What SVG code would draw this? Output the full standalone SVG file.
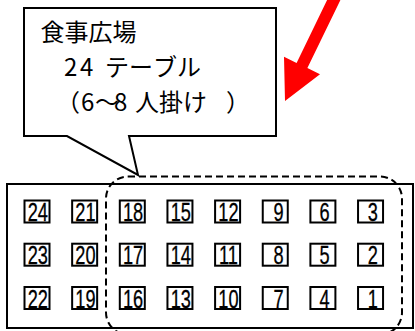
<svg xmlns="http://www.w3.org/2000/svg" width="415" height="331" viewBox="0 0 415 331">
<style>
.cj{font-family:"Noto Sans CJK JP","Noto Sans CJK SC",sans-serif;font-size:24px;fill:#000}
.bx{fill:#fff;stroke:#000;stroke-width:2}
.n{font-family:"Liberation Sans",Arial,sans-serif;font-size:26px;fill:#000;stroke:#000;stroke-width:0.3;text-anchor:middle}
</style>
<rect width="415" height="331" fill="#fff"/>
<g id="tables">
<rect x="7" y="184" width="406" height="144" fill="#fff" stroke="#000" stroke-width="2"/>
</g>
<g id="t24"><rect class="bx" x="24.5" y="200.5" width="25" height="22"/><text class="n" transform="translate(37.8,221) scale(0.7 1)">24</text></g>
<g id="t23"><rect class="bx" x="24.5" y="243.7" width="25" height="22"/><text class="n" transform="translate(37.8,264.2) scale(0.7 1)">23</text></g>
<g id="t22"><rect class="bx" x="24.5" y="287" width="25" height="22"/><text class="n" transform="translate(37.8,307.5) scale(0.7 1)">22</text></g>
<g id="t21"><rect class="bx" x="72.15" y="200.5" width="25" height="22"/><text class="n" transform="translate(85.45,221) scale(0.7 1)">21</text></g>
<g id="t20"><rect class="bx" x="72.15" y="243.7" width="25" height="22"/><text class="n" transform="translate(85.45,264.2) scale(0.7 1)">20</text></g>
<g id="t19"><rect class="bx" x="72.15" y="287" width="25" height="22"/><text class="n" transform="translate(85.45,307.5) scale(0.7 1)">19</text></g>
<g id="t18"><rect class="bx" x="119.8" y="200.5" width="25" height="22"/><text class="n" transform="translate(133.1,221) scale(0.7 1)">18</text></g>
<g id="t17"><rect class="bx" x="119.8" y="243.7" width="25" height="22"/><text class="n" transform="translate(133.1,264.2) scale(0.7 1)">17</text></g>
<g id="t16"><rect class="bx" x="119.8" y="287" width="25" height="22"/><text class="n" transform="translate(133.1,307.5) scale(0.7 1)">16</text></g>
<g id="t15"><rect class="bx" x="167.45" y="200.5" width="25" height="22"/><text class="n" transform="translate(180.75,221) scale(0.7 1)">15</text></g>
<g id="t14"><rect class="bx" x="167.45" y="243.7" width="25" height="22"/><text class="n" transform="translate(180.75,264.2) scale(0.7 1)">14</text></g>
<g id="t13"><rect class="bx" x="167.45" y="287" width="25" height="22"/><text class="n" transform="translate(180.75,307.5) scale(0.7 1)">13</text></g>
<g id="t12"><rect class="bx" x="215.1" y="200.5" width="25" height="22"/><text class="n" transform="translate(228.4,221) scale(0.7 1)">12</text></g>
<g id="t11"><rect class="bx" x="215.1" y="243.7" width="25" height="22"/><text class="n" transform="translate(228.4,264.2) scale(0.7 1)">11</text></g>
<g id="t10"><rect class="bx" x="215.1" y="287" width="25" height="22"/><text class="n" transform="translate(228.4,307.5) scale(0.7 1)">10</text></g>
<g id="t9"><rect class="bx" x="262.75" y="200.5" width="25" height="22"/><text class="n" transform="translate(278.5,221) scale(0.7 1)">9</text></g>
<g id="t8"><rect class="bx" x="262.75" y="243.7" width="25" height="22"/><text class="n" transform="translate(278.5,264.2) scale(0.7 1)">8</text></g>
<g id="t7"><rect class="bx" x="262.75" y="287" width="25" height="22"/><text class="n" transform="translate(278.5,307.5) scale(0.7 1)">7</text></g>
<g id="t6"><rect class="bx" x="310.4" y="200.5" width="25" height="22"/><text class="n" transform="translate(324.5,221) scale(0.7 1)">6</text></g>
<g id="t5"><rect class="bx" x="310.4" y="243.7" width="25" height="22"/><text class="n" transform="translate(324.5,264.2) scale(0.7 1)">5</text></g>
<g id="t4"><rect class="bx" x="310.4" y="287" width="25" height="22"/><text class="n" transform="translate(324.5,307.5) scale(0.7 1)">4</text></g>
<g id="t3"><rect class="bx" x="358.05" y="200.5" width="25" height="22"/><text class="n" transform="translate(372.8,221) scale(0.7 1)">3</text></g>
<g id="t2"><rect class="bx" x="358.05" y="243.7" width="25" height="22"/><text class="n" transform="translate(372.8,264.2) scale(0.7 1)">2</text></g>
<g id="t1"><rect class="bx" x="358.05" y="287" width="25" height="22"/><text class="n" transform="translate(372.8,307.5) scale(0.7 1)">1</text></g>
<g id="group">
<rect x="106" y="176.5" width="296" height="158" rx="22" ry="22" fill="none" stroke="#000" stroke-width="2" stroke-dasharray="7 4"/>
</g>
<g id="callout">
<path d="M24,8 H276 V136 H129 L138,175 L67,136 H24 Z" fill="#fff" stroke="#000" stroke-width="2" stroke-linejoin="miter"/>
<text class="cj" x="40.5" y="41">食事広場</text>
<text class="cj" x="64 80 97 105 129 153 177" y="76">24 テーブル</text>
<text class="cj" x="56 81 95 114 128 135 159 183 226" y="111">（6～8 人掛け）</text>
</g>
<g id="connectors">
<polygon points="285,101 284,56.8 296.6,62.9 330.8,-7.6 341.6,-2.4 307.4,68.1 320,74.2" fill="#ff0000"/>
</g>
</svg>
